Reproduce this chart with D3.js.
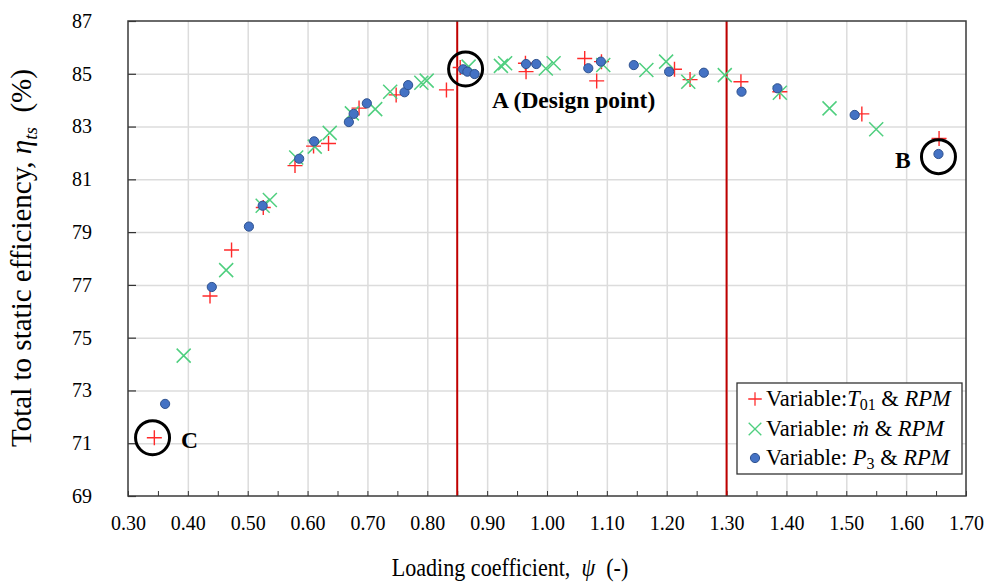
<!DOCTYPE html>
<html><head><meta charset="utf-8">
<script src="https://cdn.jsdelivr.net/npm/d3@7/dist/d3.min.js"></script>
<style>
html,body{margin:0;padding:0;background:#fff;}
</style></head>
<body><svg id="chart" width="988" height="584" font-family="Liberation Serif"></svg>
<script>
// ---- data ----
const t01X = [0.344,0.437,0.473,0.526,0.579,0.610,0.635,0.686,0.748,0.832,0.855,0.964,0.965,1.063,1.091,1.083,1.213,1.239,1.324,1.389,1.526,1.655];
const t01Y = [71.21,76.58,78.32,79.93,81.52,82.26,82.36,83.70,84.20,84.39,85.24,85.40,85.08,85.58,85.46,84.73,85.17,84.78,84.70,84.32,83.48,82.55];

const mdotX = [0.393,0.464,0.525,0.537,0.581,0.612,0.637,0.674,0.713,0.738,0.790,0.799,0.869,0.923,0.930,0.998,1.011,1.094,1.166,1.199,1.236,1.297,1.389,1.472,1.550];
const mdotY = [74.32,77.56,80.00,80.22,81.83,82.24,82.76,83.50,83.66,84.32,84.66,84.74,85.27,85.30,85.40,85.20,85.40,85.33,85.14,85.46,84.70,84.95,84.28,83.69,82.90];

const p3X = [0.362,0.440,0.502,0.525,0.586,0.611,0.669,0.677,0.699,0.762,0.768,0.860,0.867,0.879,0.965,0.982,1.069,1.090,1.145,1.204,1.262,1.325,1.385,1.514,1.654];
const p3Y = [72.49,76.92,79.21,80.00,81.78,82.44,83.17,83.48,83.88,84.30,84.57,85.17,85.08,84.99,85.37,85.37,85.21,85.46,85.33,85.08,85.04,84.32,84.45,83.44,81.96];

const xTickLabels = [0.30,0.40,0.50,0.60,0.70,0.80,0.90,1.00,1.10,1.20,1.30,1.40,1.50,1.60,1.70];
const yTickLabels = [69,71,73,75,77,79,81,83,85,87];
const xMinorTicks = d3.range(0.30, 1.7001, 0.05).map(v => +v.toFixed(2));
const redLines = [0.85, 1.30];

const circleNames = ["A","B","C"];
const circleX = [0.864, 1.654, 0.341];
const circleY = [85.18, 81.86, 71.21];

// ---- layout ----
const FONT = "Liberation Serif";
const L = 128, R = 966, T = 21, B = 496;
const svg = d3.select("#chart");
const x = d3.scaleLinear().domain([0.3, 1.7]).range([L, R]);
const y = d3.scaleLinear().domain([69, 87]).range([B, T]);

// grid
svg.append("g").attr("transform", `translate(0,${B})`)
  .call(d3.axisBottom(x).tickValues(xTickLabels.slice(1, -1)).tickSize(-(B - T)).tickFormat(""))
  .call(g => g.select(".domain").remove())
  .call(g => g.selectAll("line").attr("stroke", "#dcdcdc").attr("stroke-width", 1.5));
svg.append("g").attr("transform", `translate(${L},0)`)
  .call(d3.axisLeft(y).tickValues(yTickLabels.slice(1, -1)).tickSize(-(R - L)).tickFormat(""))
  .call(g => g.select(".domain").remove())
  .call(g => g.selectAll("line").attr("stroke", "#dcdcdc").attr("stroke-width", 1.5));

// inward ticks
svg.append("g").attr("transform", `translate(0,${B})`)
  .call(d3.axisBottom(x).tickValues(xMinorTicks).tickSize(-5).tickFormat(""))
  .call(g => g.select(".domain").remove())
  .call(g => g.selectAll("line").attr("stroke", "#333").attr("stroke-width", 1));
svg.append("g").attr("transform", `translate(${L},0)`)
  .call(d3.axisLeft(y).tickValues(yTickLabels).tickSize(-8).tickFormat(""))
  .call(g => g.select(".domain").remove())
  .call(g => g.selectAll("line").attr("stroke", "#333").attr("stroke-width", 1.2));

// red vertical lines
svg.append("g").selectAll("line").data(redLines).join("line")
  .attr("x1", d => x(d)).attr("x2", d => x(d))
  .attr("y1", T).attr("y2", B)
  .attr("stroke", "#c00000").attr("stroke-width", 2);

// frame
svg.append("rect").attr("x", L).attr("y", T).attr("width", R - L).attr("height", B - T)
  .attr("fill", "none").attr("stroke", "#3a3a3a").attr("stroke-width", 1.5);

// tick labels
svg.append("g").attr("transform", `translate(0,${B})`)
  .call(d3.axisBottom(x).tickValues(xTickLabels).tickSize(0).tickPadding(20).tickFormat(d3.format(".2f")))
  .call(g => g.select(".domain").remove())
  .attr("font-family", FONT).attr("font-size", 20)
  .call(g => g.selectAll("text").attr("font-size", 20).attr("font-family", FONT).attr("fill", "#000"));
svg.append("g").attr("transform", `translate(${L},0)`)
  .call(d3.axisLeft(y).tickValues(yTickLabels).tickSize(0).tickPadding(36).tickFormat(d3.format("d")))
  .call(g => g.select(".domain").remove())
  .attr("font-family", FONT).attr("font-size", 20)
  .call(g => g.selectAll("text").attr("font-size", 20).attr("font-family", FONT).attr("fill", "#000"));

// markers
const plusPath = "M-7.5,0H7.5M0,-7.5V7.5";
const xPath = "M-7,-7L7,7M-7,7L7,-7";
const red = "#ff2a2a", green = "#4fcf7f", blue = "#4472c4";

svg.append("g").selectAll("path").data(t01X.map((v, i) => [v, t01Y[i]])).join("path")
  .attr("d", plusPath).attr("transform", d => `translate(${x(d[0])},${y(d[1])})`)
  .attr("stroke", red).attr("stroke-width", 1.4).attr("fill", "none");
svg.append("g").selectAll("path").data(mdotX.map((v, i) => [v, mdotY[i]])).join("path")
  .attr("d", xPath).attr("transform", d => `translate(${x(d[0])},${y(d[1])})`)
  .attr("stroke", green).attr("stroke-width", 1.5).attr("fill", "none");
svg.append("g").selectAll("circle").data(p3X.map((v, i) => [v, p3Y[i]])).join("circle")
  .attr("cx", d => x(d[0])).attr("cy", d => y(d[1])).attr("r", 4.6)
  .attr("fill", blue).attr("stroke", "#2f528f").attr("stroke-width", 1);

// annotation circles
svg.append("g").selectAll("circle").data(circleX.map((v, i) => [v, circleY[i]])).join("circle")
  .attr("cx", d => x(d[0])).attr("cy", d => y(d[1])).attr("r", 17)
  .attr("fill", "none").attr("stroke", "#000").attr("stroke-width", 3);

const lbl = (tx, ty, s) => svg.append("text").attr("x", tx).attr("y", ty)
  .attr("font-family", FONT).attr("font-size", 23.5).attr("font-weight", "bold").text(s);
lbl(492, 108, "A (Design point)");
lbl(895, 168, "B");
lbl(181, 448, "C");

// axis titles
const xt = svg.append("text").attr("transform", "translate(510,576) scale(0.85,1)").attr("text-anchor", "middle")
  .attr("font-family", FONT).attr("font-size", 26).attr("xml:space", "preserve");
xt.append("tspan").text("Loading coefficient,  ");
xt.append("tspan").attr("font-style", "italic").text("ψ");
xt.append("tspan").text("  (-)");

const yt = svg.append("text").attr("transform", "translate(31,258) rotate(-90)").attr("text-anchor", "middle")
  .attr("font-family", FONT).attr("font-size", 29).attr("xml:space", "preserve");
yt.append("tspan").text("Total to static efficiency, ");
yt.append("tspan").attr("font-style", "italic").text("η");
yt.append("tspan").attr("font-style", "italic").attr("font-size", 19).attr("dy", 6).text("ts");
yt.append("tspan").attr("dy", -6).text("  (%)");

// legend
const lg = svg.append("g");
lg.append("rect").attr("x", 737).attr("y", 383).attr("width", 225).attr("height", 91)
  .attr("fill", "#fff").attr("stroke", "#333").attr("stroke-width", 1.3);
const rows = [399, 429, 458];
lg.append("path").attr("d", plusPath).attr("transform", `translate(755,${rows[0]}) scale(0.9)`)
  .attr("stroke", red).attr("stroke-width", 1.4).attr("fill", "none");
lg.append("path").attr("d", xPath).attr("transform", `translate(755,${rows[1]}) scale(0.9)`)
  .attr("stroke", green).attr("stroke-width", 1.5).attr("fill", "none");
lg.append("circle").attr("cx", 755).attr("cy", rows[2]).attr("r", 4.6)
  .attr("fill", blue).attr("stroke", "#2f528f").attr("stroke-width", 1);

const legText = (ry) => lg.append("text").attr("x", 766).attr("y", ry + 7)
  .attr("font-family", FONT).attr("font-size", 22.5).attr("xml:space", "preserve");
const t1 = legText(rows[0]);
t1.append("tspan").text("Variable:");
t1.append("tspan").attr("font-style", "italic").text("T");
t1.append("tspan").attr("font-size", 16).attr("dy", 4).text("01");
t1.append("tspan").attr("dy", -4).text(" & ");
t1.append("tspan").attr("font-style", "italic").text("RPM");

const t2 = legText(rows[1]);
t2.append("tspan").text("Variable: ");
t2.append("tspan").attr("font-style", "italic").text("ṁ");
t2.append("tspan").text(" & ");
t2.append("tspan").attr("font-style", "italic").text("RPM");

const t3 = legText(rows[2]);
t3.append("tspan").text("Variable: ");
t3.append("tspan").attr("font-style", "italic").text("P");
t3.append("tspan").attr("font-size", 16).attr("dy", 4).text("3");
t3.append("tspan").attr("dy", -4).text(" & ");
t3.append("tspan").attr("font-style", "italic").text("RPM");
</script></body></html>
